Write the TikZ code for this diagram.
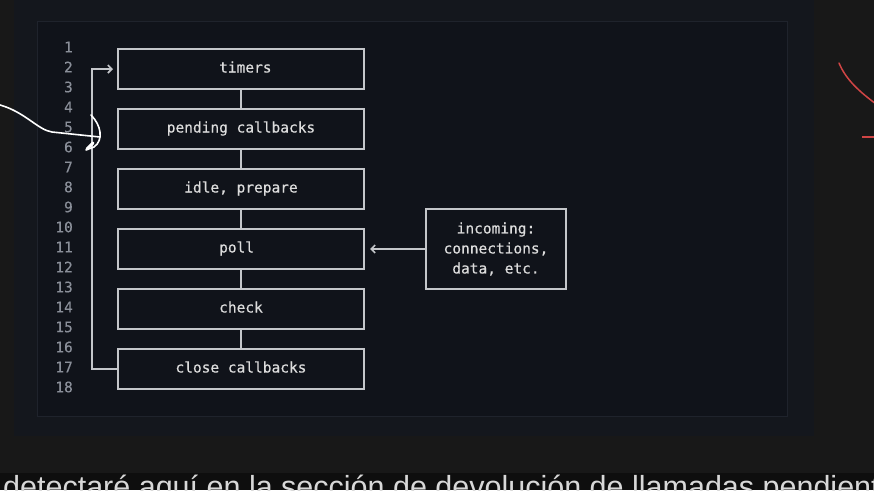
\documentclass[tikz,border=0pt]{standalone}
\usepackage{fontspec}
\setmainfont{Liberation Sans}
\newfontfamily\codefont{DejaVu Sans Mono}[FakeBold=0.4]
\usetikzlibrary{arrows.meta,positioning}

\definecolor{screenbg}{HTML}{181818}
\definecolor{slidebg}{HTML}{14171D}
\definecolor{editorbg}{HTML}{10131A}
\definecolor{editorrule}{HTML}{1F232C}
\definecolor{capbg}{HTML}{0E0E0E}
\definecolor{captext}{HTML}{D8D8D8}
\definecolor{boxline}{HTML}{C4C6CA}
\definecolor{boxtext}{HTML}{DCDCDC}
\definecolor{numgray}{HTML}{8A8F99}
\definecolor{inkred}{HTML}{D04545}

\tikzset{
  box/.style={draw=boxline, line width=1.6pt, inner sep=0pt, outer sep=0pt,
    text=boxtext, font=\codefont\fontsize{14.5}{20}\selectfont},
  phase/.style={box, minimum width=246pt, minimum height=40pt,
    text height=10pt, text depth=3pt},
  link/.style={draw=boxline, line width=1.6pt},
  feed/.style={link, -{Straight Barb[length=4pt,width=8pt]}},
  lineno/.style={anchor=east, inner sep=0pt, text=numgray,
    font=\codefont\fontsize{14.5}{20}\selectfont},
  ink/.style={white, line width=1.6pt, line cap=round, line join=round},
}

\begin{document}
\begin{tikzpicture}[x=1pt, y=-1pt]
  \useasboundingbox (0,0) rectangle (874,490);
  % screen, slide and editor panel
  \fill[screenbg] (0,0) rectangle (874,490);
  \fill[slidebg] (14,0) rectangle (814,436);
  \filldraw[fill=editorbg, draw=editorrule, line width=1pt] (37,21) rectangle (787,416);
  \fill[capbg] (0,473) rectangle (874,490);

  % line numbers
  \foreach \n in {1,...,18}
    \node[lineno] (ln\n) at (73, 27+20*\n) {\n};

  % event loop phases
  \node[phase] (timers) at (241,69) {\phantom{t}timers};
  \node[phase, below=20pt of timers] (pending) {pending callbacks};
  \node[phase, below=20pt of pending] (idle) {idle, prepare};
  \node[phase, below=20pt of idle] (poll) {poll\phantom{t}};
  \node[phase, below=20pt of poll] (check) {check};
  \node[phase, below=20pt of check] (close) {close callbacks};
  \node[box, minimum width=140pt, minimum height=80pt, align=center,
    right=62pt of poll] (incoming) {incoming:\\connections,\\data, etc.};

  \foreach \a/\b in {timers/pending, pending/idle, idle/poll, poll/check, check/close}
    \draw[link] (\a.south) -- (\b.north);

  % loop back to timers
  \coordinate (loopx) at (92,0);
  \draw[feed, shorten >=5pt] (close.west) -- (close.west -| loopx)
    -- (timers.west -| loopx) -- (timers.west);
  \draw[feed, shorten >=6pt] (incoming.west) -- (poll.east);

  % hand drawn marks
  \draw[ink] (0,105) .. controls (25,112) and (38,130) .. (52,132) -- (100,137);
  \draw[ink] (91,115) .. controls (101,125) and (104,140) .. (94,147) -- (86,150);
  \draw[ink, line width=3pt] (87,149) -- (93,143);
  \draw[inkred, line width=1.5pt, line cap=round] (839,63) .. controls (846,80) and (860,92) .. (876,104);
  \draw[inkred, line width=1.5pt] (862,137) -- (876,137);

  % subtitle
  \node[anchor=base west, inner sep=0pt, text=captext, font=\fontsize{30.5}{31}\selectfont]
    (caption) at (3,497) {detectaré aquí en la sección de devolución de llamadas pendientes};
\end{tikzpicture}
\end{document}
